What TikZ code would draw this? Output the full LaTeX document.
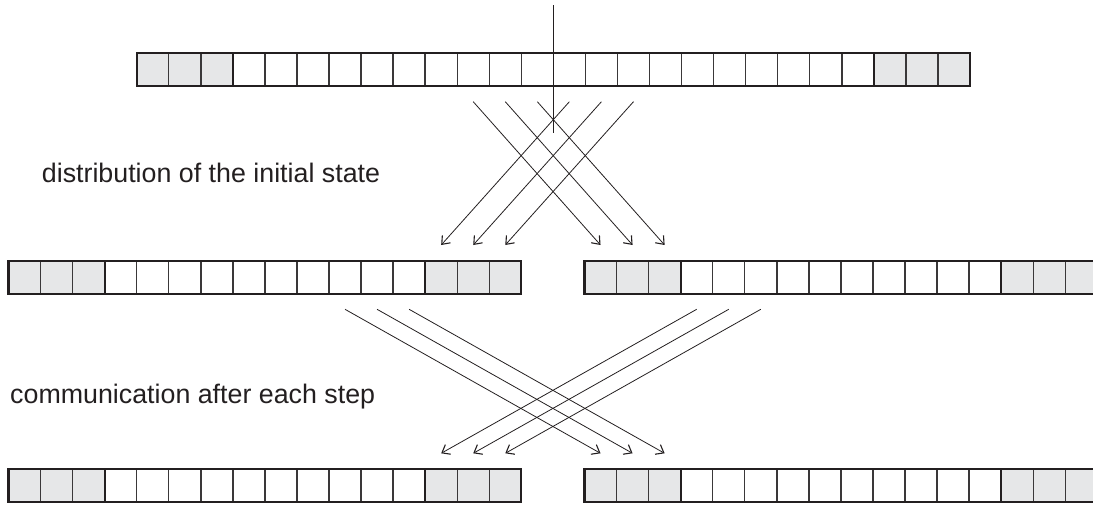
\documentclass[tikz,border=0pt]{standalone}
\usepackage{fontspec}
\setmainfont{Liberation Sans}
\usetikzlibrary{arrows.meta}
\definecolor{ink}{HTML}{231F20}
\definecolor{sep}{HTML}{3A3839}
\definecolor{ghostfill}{HTML}{E6E7E8}

% cell size
\newcommand\cw{32.05}
\newcommand\ch{33}

% one array of cells: prefix, left x, top y, number of cells
\newcommand\cellarray[4]{%
  \pgfmathtruncatemacro\lastcell{#4-1}%
  \pgfmathtruncatemacro\firstright{#4-3}%
  \foreach \i in {0,...,\lastcell}{%
    \ifnum\i<3 \def\cstyle{ghostcell}\else
      \ifnum\i<\firstright \def\cstyle{cell}\else\def\cstyle{ghostcell}\fi
    \fi
    \node[\cstyle] (#1\i) at ({#2+(\i+0.5)*\cw},{#3+\ch/2}) {};
  }%
  \draw[rowedge] (#10.north west) rectangle (#1\lastcell.south east);
  \draw[rowedge] (#10.north west) rectangle (#12.south east);
  \draw[rowedge] (#1\firstright.north west) rectangle (#1\lastcell.south east);
}

\begin{document}
\begin{tikzpicture}[x=1pt,y=-1pt,
  cell/.style={draw=sep,line width=1.4pt,minimum width=\cw pt,minimum height=\ch pt,
    inner sep=0pt,outer sep=0pt,fill=white},
  ghostcell/.style={cell,fill=ghostfill},
  rowedge/.style={draw=ink,line width=2.2pt},
  link/.style={draw=ink,line width=0.8pt,-{Straight Barb[length=7pt,width=11pt,line width=1.1pt]}},
  caption/.style={inner sep=0pt,anchor=base west,text=ink,font=\fontsize{26.8}{32}\selectfont}]
\useasboundingbox (0,0) rectangle (1093,504);
\clip (0,0) rectangle (1093,504);

% global array and the two halves, before and after a step
\cellarray{t}{136.7}{53}{26}
\cellarray{ml}{8.5}{261}{16}
\cellarray{mr}{584.5}{261}{16}
\cellarray{bl}{8.5}{469}{16}
\cellarray{br}{584.5}{469}{16}

% split line through the middle of the global array
\draw[ink,line width=0.8pt] ([yshift=48pt]t12.north east) -- ([yshift=-47pt]t12.south east);

% distribution of the initial state
\foreach \s/\d in {10/0,11/1,12/2}
  \draw[link] ([yshift=-15.7pt]t\s.south) -- ([yshift=16pt]mr\d.north);
\foreach \s/\d in {13/13,14/14,15/15}
  \draw[link] ([yshift=-15.7pt]t\s.south) -- ([yshift=16pt]ml\d.north);

% halo exchange after each step
\foreach \s/\d in {10/0,11/1,12/2}
  \draw[link] ([yshift=-15.3pt]ml\s.south) -- ([yshift=15.7pt]br\d.north);
\foreach \s/\d in {3/13,4/14,5/15}
  \draw[link] ([yshift=-15.3pt]mr\s.south) -- ([yshift=15.7pt]bl\d.north);

\node[caption] (cap1) at (41.7,182) {distribution of the initial state};
\node[caption] (cap2) at (10,403) {communication after each step};
\end{tikzpicture}
\end{document}
